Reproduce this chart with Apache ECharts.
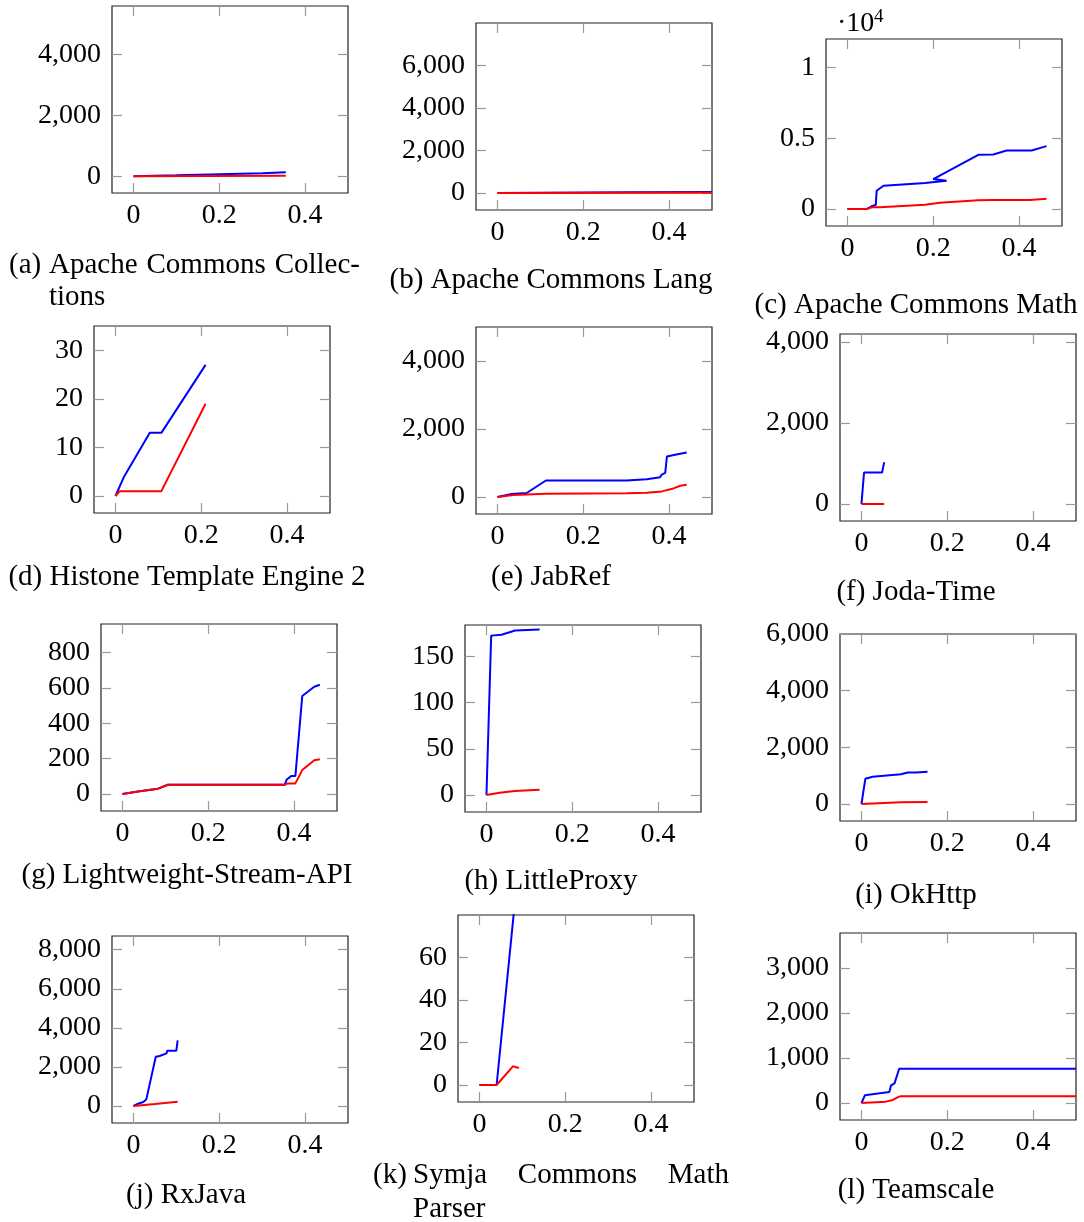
<!DOCTYPE html>
<html>
<head>
<meta charset="utf-8">
<script src="https://cdn.jsdelivr.net/npm/echarts@6/dist/echarts.min.js"></script>
<style>
  html, body { margin: 0; padding: 0; background: #fff; }
  #chart { width: 1084px; height: 1222px; }
</style>
</head>
<body>
<div id="chart"></div>
<script>
// data: [x, y] pairs
var collectionsBlue = [[0, 0], [0.1, 30], [0.2, 70], [0.3, 100], [0.355, 130]];
var collectionsRed = [[0, 0], [0.355, 20]];
var langBlue = [[0, 0], [0.1, 15], [0.3, 30], [0.5, 50]];
var langRed = [[0, 0], [0.5, 15]];
var mathBlue = [[0, 0], [0.045, 0], [0.057, 211], [0.066, 282], [0.068, 1291], [0.084, 1643], [0.181, 1831], [0.231, 1995], [0.2, 2112], [0.305, 3826], [0.34, 3849], [0.371, 4131], [0.429, 4131], [0.464, 4436]];
var mathRed = [[0, 0], [0.045, 0], [0.057, 117], [0.076, 117], [0.181, 305], [0.215, 446], [0.305, 610], [0.34, 634], [0.425, 634], [0.464, 728]];
var histoneBlue = [[0, 0], [0.019, 3.8], [0.08, 13], [0.107, 13], [0.21, 27]];
var histoneRed = [[0, 0], [0.01, 1], [0.107, 1], [0.21, 19]];
var jabrefBlue = [[0, 0], [0.033, 87], [0.068, 117], [0.113, 485], [0.301, 485], [0.348, 524], [0.352, 563], [0.379, 583], [0.383, 660], [0.391, 709], [0.395, 1194], [0.414, 1243], [0.441, 1311]];
var jabrefRed = [[0, 0], [0.037, 58], [0.114, 97], [0.301, 107], [0.348, 126], [0.383, 165], [0.41, 252], [0.426, 330], [0.441, 359]];
var jodaBlue = [[0, 0], [0.006, 776], [0.048, 776], [0.053, 1030]];
var jodaRed = [[0, 0], [0.053, 0]];
var streamBlue = [[0, 0], [0.04, 15], [0.083, 30], [0.106, 52], [0.378, 52], [0.383, 82], [0.393, 101], [0.403, 101], [0.419, 553], [0.447, 606], [0.46, 617]];
var streamRed = [[0, 0], [0.04, 15], [0.083, 30], [0.106, 52], [0.378, 52], [0.385, 60], [0.403, 60], [0.419, 135], [0.447, 191], [0.46, 196]];
var proxyBlue = [[0, 0], [0.011, 172.5], [0.035, 173.5], [0.067, 178], [0.124, 179]];
var proxyRed = [[0, 0], [0.031, 2.5], [0.066, 4.3], [0.124, 5.8]];
var okhttpBlue = [[0, 0], [0.009, 889], [0.026, 959], [0.092, 1053], [0.108, 1111], [0.127, 1111], [0.154, 1134]];
var okhttpRed = [[0, 0], [0.092, 58], [0.154, 70]];
var rxjavaBlue = [[0, 0], [0.011, 119], [0.023, 203], [0.03, 339], [0.052, 2525], [0.061, 2559], [0.077, 2695], [0.079, 2831], [0.089, 2831], [0.093, 2763], [0.1, 2831], [0.103, 3356]];
var rxjavaRed = [[0, 0], [0.05, 100], [0.103, 220]];
var symjaBlue = [[0, 0], [0.04, 0], [0.09, 101]];
var symjaRed = [[0, 0], [0.04, 0], [0.078, 8.8], [0.082, 9.6], [0.08, 8], [0.092, 8]];
var teamscaleBlue = [[0, 0], [0.008, 170], [0.065, 244], [0.069, 393], [0.077, 437], [0.081, 452], [0.088, 763], [0.5, 763]];
var teamscaleRed = [[0, 0], [0.057, 30], [0.073, 67], [0.084, 126], [0.09, 148], [0.5, 148]];

var xTicks = [0, 0.2, 0.4];
var yTicks = [
  [0, 2000, 4000], [0, 2000, 4000, 6000], [0, 5000, 10000],
  [0, 10, 20, 30], [0, 2000, 4000], [0, 2000, 4000],
  [0, 200, 400, 600, 800], [0, 50, 100, 150], [0, 2000, 4000, 6000],
  [0, 2000, 4000, 6000, 8000], [0, 20, 40, 60], [0, 1000, 2000, 3000]
];
var yRanges = [
  [-550, 5600], [-800, 8000], [-1200, 12000],
  [-3.5, 35], [-500, 5000], [-420, 4200],
  [-96, 960], [-18.4, 184], [-600, 6000],
  [-870, 8700], [-8, 80], [-378, 3780]
];
var captions = [
  '(a) Apache Commons Collections', '(b) Apache Commons Lang', '(c) Apache Commons Math',
  '(d) Histone Template Engine 2', '(e) JabRef', '(f) Joda-Time',
  '(g) Lightweight-Stream-API', '(h) LittleProxy', '(i) OkHttp',
  '(j) RxJava', '(k) Symja Commons Math Parser', '(l) Teamscale'
];
var blueSeries = [collectionsBlue, langBlue, mathBlue, histoneBlue, jabrefBlue, jodaBlue,
  streamBlue, proxyBlue, okhttpBlue, rxjavaBlue, symjaBlue, teamscaleBlue];
var redSeries = [collectionsRed, langRed, mathRed, histoneRed, jabrefRed, jodaRed,
  streamRed, proxyRed, okhttpRed, rxjavaRed, symjaRed, teamscaleRed];

// layout (pixel boxes of the plot areas)
var boxes = [
  [112, 6], [476, 23], [826, 39],
  [94, 326], [476, 327], [840, 334],
  [101, 624], [465, 625], [840, 634],
  [112, 936], [458, 915], [840, 933]
];
var FONT = '"Liberation Serif", "DejaVu Serif", serif';
var FS = 28;   // tick labels
var CS = 29;   // captions

function fmt(v, i) {
  if (i === 2) return String(v / 10000);
  return v.toLocaleString('en-US');
}

var grids = [], xAxes = [], yAxes = [], series = [];
boxes.forEach(function (b, i) {
  grids.push({ left: b[0], top: b[1], width: 236, height: 187, show: true,
    borderColor: '#222', borderWidth: 1.2, backgroundColor: 'transparent' });
  ['bottom', 'top'].forEach(function (pos) {
    xAxes.push({
      type: 'value', gridIndex: i, position: pos, min: -0.05, max: 0.5,
      axisLine: { show: false, onZero: false },
      splitLine: { show: false },
      axisTick: { show: true, inside: true, length: 10, customValues: xTicks,
        lineStyle: { color: '#999', width: 1.2 } },
      axisLabel: { show: pos === 'bottom', customValues: xTicks, margin: 9,
        color: '#000', fontFamily: FONT, fontSize: FS,
        formatter: function (v) { return String(v); } }
    });
  });
  ['left', 'right'].forEach(function (pos) {
    yAxes.push({
      type: 'value', gridIndex: i, position: pos, min: yRanges[i][0], max: yRanges[i][1],
      axisLine: { show: false, onZero: false },
      splitLine: { show: false },
      axisTick: { show: true, inside: true, length: 10, customValues: yTicks[i],
        lineStyle: { color: '#999', width: 1.2 } },
      axisLabel: { show: pos === 'left', customValues: yTicks[i], margin: 11,
        padding: [5, 0, 0, 0],
        color: '#000', fontFamily: FONT, fontSize: FS,
        formatter: function (v) { return fmt(v, i); } }
    });
  });
  series.push({ type: 'line', xAxisIndex: i * 2, yAxisIndex: i * 2, data: blueSeries[i],
    showSymbol: false, symbol: 'none', clip: true, animation: false,
    lineStyle: { color: '#0000ff', width: 2 } });
  series.push({ type: 'line', xAxisIndex: i * 2, yAxisIndex: i * 2, data: redSeries[i],
    showSymbol: false, symbol: 'none', clip: true, animation: false,
    lineStyle: { color: '#ff0000', width: 2 } });
});

// captions: text at (x, baseline)
function txt(s, x, base, align, size) {
  return { type: 'text', x: x, y: base - 8, silent: true,
    style: { text: s, fill: '#000', font: (size || CS) + 'px ' + FONT,
      textAlign: align || 'center', textVerticalAlign: 'middle',
      align: align || 'center', verticalAlign: 'middle' } };
}
var ctx = document.createElement('canvas').getContext('2d');
ctx.font = CS + 'px ' + FONT;
// spread words between x0 and x1, like a justified TeX line
function justify(words, x0, x1, base, out) {
  var total = 0;
  words.forEach(function (w) { total += ctx.measureText(w).width; });
  var gap = (x1 - x0 - total) / (words.length - 1);
  var x = x0;
  words.forEach(function (w) {
    out.push(txt(w, x, base, 'left'));
    x += ctx.measureText(w).width + gap;
  });
}
var capPos = [null, [551, 288], [916, 313], [187, 585], [551, 585], [916, 600],
  [187, 883], [551, 889], [916, 903], [186, 1203], null, [916, 1198]];
var graphics = [];
capPos.forEach(function (p, i) {
  if (p) graphics.push(txt(captions[i], p[0], p[1], 'center'));
});
// two-line captions with hanging indent
var wa = captions[0].split(' ');
graphics.push(txt(wa[0], 9, 273, 'left'));
justify([wa[1], wa[2], 'Collec-'], 49, 360, 273, graphics);
graphics.push(txt('tions', 49, 305, 'left'));
var wk = captions[10].split(' ');
graphics.push(txt(wk[0], 373, 1183, 'left'));
justify([wk[1], wk[2], wk[3]], 413, 729, 1183, graphics);
graphics.push(txt(wk[4], 413, 1217, 'left'));
// axis multiplier of panel (c)
graphics.push(txt('\u00b710', 837, 32, 'left', FS));
graphics.push(txt('4', 874, 25, 'left', 19));

var chart = echarts.init(document.getElementById('chart'), null, { renderer: 'canvas' });
chart.setOption({
  animation: false,
  grid: grids,
  xAxis: xAxes,
  yAxis: yAxes,
  series: series,
  graphic: graphics
});
</script>
</body>
</html>
